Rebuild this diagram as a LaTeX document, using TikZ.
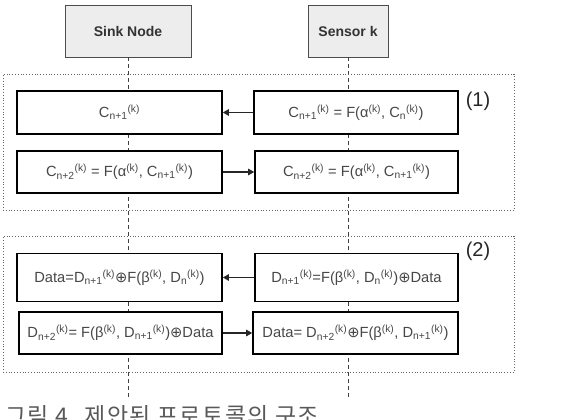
\documentclass[tikz,border=0pt]{standalone}
\usepackage{fontspec}
\setmainfont{Liberation Sans}
\newfontfamily\dejavu{DejaVu Sans}
\newfontfamily\krfont[LetterSpace=6]{Noto Sans CJK KR}
\usetikzlibrary{arrows.meta}
\newcommand{\lw}[1]{\textsubscript{#1}}
\newcommand{\up}[1]{\textsuperscript{#1}}
\newcommand{\xor}{{\dejavu ⊕}}
\begin{document}
\begin{tikzpicture}[x=1pt,y=-1pt,
  head/.style={draw=black!70, fill=black!7, line width=0.8pt, inner sep=0pt, font=\fontsize{14}{16}\selectfont\bfseries, text=black!80},
  msg/.style={draw=black, fill=white, line width=1.6pt, inner sep=0pt, font=\fontsize{14.7}{17}\selectfont, text=black!72},
  life/.style={dashed, dash pattern=on 4pt off 3pt, draw=black!75, line width=0.8pt},
  group/.style={draw=black!60, dotted, line width=0.8pt},
  arr/.style={-{Triangle[length=6pt,width=6.5pt]}, line width=1.1pt, draw=black!85},
  lab/.style={font=\fontsize{20}{22}\selectfont, text=black!85}]
\useasboundingbox (0,0) rectangle (566,420);
% headers
\node[head, minimum width=126pt, minimum height=52pt] (sink) at (128,31) {Sink Node};
\node[head, minimum width=80pt, minimum height=52pt] (sensor) at (348,31) {Sensor k};
% lifeline end points
\coordinate (sinkend) at (128,397);
\coordinate (sensend) at (348,397);
\draw[life] (sink.south) -- (sinkend);
\draw[life] (sensor.south) -- (sensend);
% groups
\node[group, minimum width=511pt, minimum height=136pt] (g1) at (258.5,142) {};
\node[group, minimum width=511pt, minimum height=136pt] (g2) at (258.5,304) {};
\node[lab] (l1) at (478,101) {(1)};
\node[lab] (l2) at (478,251) {(2)};
% messages
\node[msg, minimum width=205pt, minimum height=43pt] (a1) at (119.5,112.5) {C\lw{n+1}\up{(k)}};
\node[msg, minimum width=204pt, minimum height=43pt] (b1) at (356,112.5) {C\lw{n+1}\up{(k)} = F(α\up{(k)}, C\lw{n}\up{(k)})};
\node[msg, minimum width=205pt, minimum height=42pt] (a2) at (119.5,172) {C\lw{n+2}\up{(k)} = F(α\up{(k)}, C\lw{n+1}\up{(k)})};
\node[msg, minimum width=203pt, minimum height=42pt] (b2) at (356.5,172) {C\lw{n+2}\up{(k)} = F(α\up{(k)}, C\lw{n+1}\up{(k)})};
\node[msg, minimum width=205pt, minimum height=48pt] (a3) at (119.5,277.5) {Data=D\lw{n+1}\up{(k)}\xor F(β\up{(k)}, D\lw{n}\up{(k)})};
\node[msg, minimum width=203pt, minimum height=48pt] (b3) at (356.5,277.5) {D\lw{n+1}\up{(k)}=F(β\up{(k)}, D\lw{n}\up{(k)})\xor Data};
\node[msg, minimum width=203pt, minimum height=42pt] (a4) at (120.5,333) {D\lw{n+2}\up{(k)}= F(β\up{(k)}, D\lw{n+1}\up{(k)})\xor Data};
\node[msg, minimum width=205pt, minimum height=42pt] (b4) at (355.5,333) {Data= D\lw{n+2}\up{(k)}\xor F(β\up{(k)}, D\lw{n+1}\up{(k)})};
% arrows
\draw[arr] (b1.west) -- (a1.east);
\draw[arr] (a2.east) -- (b2.west);
\draw[arr] (b3.west) -- (a3.east);
\draw[arr] (a4.east) -- (b4.west);
% caption
\node[anchor=base west, inner sep=0pt, font=\krfont\fontsize{23}{25}\selectfont, text=black!65] (cap) at (5,424) {그림 4. 제안된 프로토콜의 구조};
\end{tikzpicture}
\end{document}
